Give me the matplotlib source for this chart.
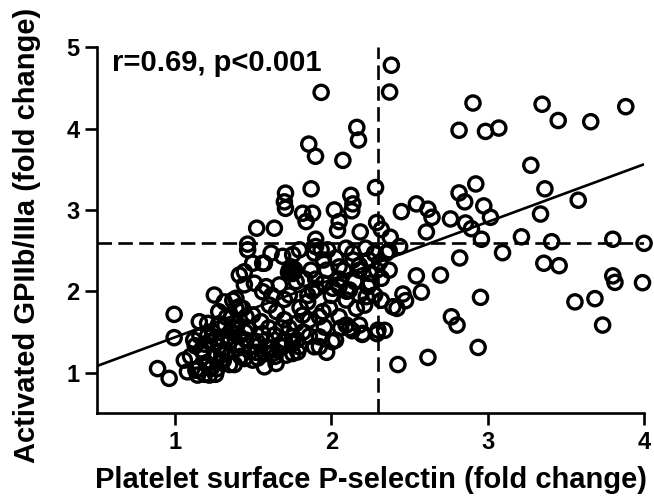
import matplotlib
matplotlib.use("Agg")
import matplotlib.pyplot as plt

# ---- data ----
px_open = [
    2.384, 2.373, 2.906, 3.348, 3.883, 3.451, 3.659, 2.817, 2.986, 3.071,
    2.163, 2.174, 1.899, 2.074, 3.276, 2.924, 3.366, 2.283, 2.125, 2.817,
    2.853, 2.544, 2.448, 2.618, 2.644, 2.762, 2.975, 3.018, 3.579, 3.338,
    2.858, 2.896, 2.608, 2.960, 3.216, 3.409, 3.800, 4.000, 2.185, 2.290,
    2.320, 2.377, 2.437, 2.138, 2.131, 2.020, 2.050, 2.040, 1.935, 1.856,
    1.871, 1.707, 1.700, 1.707, 1.817, 1.839, 1.880, 1.523, 1.636, 1.900,
    1.465,
    3.095, 2.821, 3.359, 3.457, 2.698, 2.544, 2.576, 2.458, 2.475, 2.420,
    2.954, 3.800, 3.814, 3.990, 3.558, 3.686, 3.735, 2.768, 2.804, 2.939,
    2.618, 2.426, 2.341, 2.292, 2.198, 2.134, 2.027, 2.006, 1.924, 2.320,
    2.320,
    0.995, 0.995, 0.889, 0.963, 1.060, 1.080, 1.145, 1.220, 1.134, 1.252,
    1.316, 1.370, 1.390, 1.156, 1.209,
    1.412, 1.465, 1.497, 1.561, 1.615, 1.689, 1.753, 1.796, 1.892, 1.935,
    1.444, 1.508, 1.561, 1.412, 1.455, 1.497, 1.455, 1.519, 1.583, 1.583,
    1.497, 1.647, 1.625, 1.689, 1.753, 1.753, 1.796, 1.892, 1.775, 1.860,
    1.924, 1.924, 1.956,
    2.298, 2.277, 2.394, 2.050, 1.989, 1.946, 2.095, 2.180, 2.010, 2.117,
    2.180, 2.213, 2.160, 2.234, 2.095,
    1.583, 1.390, 1.433, 1.604, 1.551, 1.465, 1.380, 1.636, 1.525, 1.668,
    1.753, 1.785, 1.572, 1.444, 1.711, 1.817, 1.849, 1.732, 1.668, 1.775,
    1.903,
    1.100, 1.130, 1.160, 1.180, 1.200, 1.220, 1.240, 1.250, 1.270, 1.280,
    1.300, 1.310, 1.330, 1.350, 1.360, 1.380, 1.400, 1.420, 1.150, 1.190,
    1.260, 1.120, 1.320, 1.280, 1.400, 1.450, 1.360, 1.280, 1.330,
    1.900, 1.977, 2.095, 2.220, 2.277, 2.370, 1.950, 2.030, 2.140, 2.240,
    2.310, 1.870, 1.970, 2.080, 2.180, 2.290, 2.370,
    1.830, 1.950, 2.050, 2.150, 2.250, 1.880, 2.000, 2.100,
    2.138, 2.277, 2.352, 2.050, 2.180, 2.245, 2.050, 2.224, 2.117, 2.200,
    1.572, 1.444, 1.743,
    1.650, 1.700, 1.620, 1.850, 1.900, 1.800, 1.700, 1.600, 1.680, 1.820,
    1.170, 1.210, 1.240, 1.290, 1.340, 1.370, 1.410, 1.230, 1.190, 1.260,
    1.300, 1.350, 1.430, 1.480, 1.530, 1.560, 1.600, 1.640, 1.700, 1.730,
    1.780, 1.860, 1.970, 2.060, 1.520, 1.620,
]
py_open = [
    4.78, 4.45, 4.315, 4.30, 4.27, 4.10, 4.085, 3.98, 3.966, 4.007,
    4.015, 3.86, 3.66, 3.61, 3.55, 3.32, 3.26, 3.276, 3.18, 3.21,
    3.10, 3.075, 2.98, 3.01, 2.91, 2.89, 3.05, 2.91, 3.12, 2.95,
    2.84, 2.77, 2.73, 2.64, 2.67, 2.61, 2.64, 2.59, 2.73, 2.845,
    2.76, 2.665, 2.55, 3.075, 2.99, 3.00, 2.857, 2.75, 4.446, 3.81,
    3.26, 3.207, 3.10, 3.02, 2.96, 2.857, 2.96, 2.776, 2.776, 2.64,
    2.58,
    2.475, 2.41, 2.345, 2.315, 2.20, 2.19, 1.99, 1.967, 1.885, 1.79,
    1.926, 2.19, 2.11, 2.106, 1.87, 1.91, 1.585, 1.687, 1.585, 1.31,
    1.187, 1.10, 1.52, 1.48, 1.47, 1.515, 1.40, 1.38, 1.32, 1.89,
    2.16,
    1.717, 1.43, 1.05, 0.93, 1.154, 1.01, 0.97, 0.97, 1.03, 1.954,
    1.87, 1.89, 1.79, 1.626, 1.606,
    2.20, 2.51, 2.345, 2.345, 2.47, 2.43, 2.45, 2.51, 2.47, 2.51,
    2.08, 2.10, 1.995, 1.81, 1.687, 1.71, 1.40, 1.32, 1.40, 1.236,
    1.154, 1.113, 1.236, 1.318, 1.44, 1.236, 1.318, 1.318, 1.606, 1.646,
    1.687, 1.44, 1.56,
    1.523, 1.954, 1.81, 1.687, 1.79, 1.75, 1.585, 1.585, 2.037, 2.016,
    1.954, 1.83, 1.79, 2.057, 1.893,
    2.057, 1.914, 1.79, 1.83, 1.626, 1.544, 1.483, 1.462, 1.38, 1.34,
    1.36, 1.255, 1.072, 1.174, 1.215, 1.707, 1.87, 1.954, 2.078, 2.12,
    2.037,
    1.20, 1.33, 1.45, 1.25, 1.12, 1.38, 1.50, 1.20, 1.05, 1.32,
    1.42, 1.15, 1.25, 1.38, 1.50, 1.10, 1.30, 1.20, 1.05, 0.98,
    0.98, 1.40, 1.58, 1.60, 1.60, 1.50, 1.68, 1.75, 1.68,
    2.55, 2.51, 2.53, 2.53, 2.46, 2.50, 2.385, 2.41, 2.385, 2.385,
    2.36, 2.26, 2.26, 2.26, 2.26, 2.26, 2.26,
    2.15, 2.10, 2.15, 2.12, 2.10, 2.00, 1.95, 2.00,
    2.47, 2.47, 2.47, 2.30, 2.32, 2.22, 2.057, 1.934, 1.544, 1.483,
    2.345, 2.24, 2.30,
    1.75, 1.90, 1.95, 1.95, 2.15, 1.80, 1.65, 1.55, 1.55, 1.50,
    1.28, 1.46, 1.08, 1.13, 1.44, 1.56, 1.45, 1.05, 1.35, 1.42,
    1.22, 1.10, 1.32, 1.26, 1.18, 1.48, 1.30, 1.20, 1.40, 1.55,
    1.40, 1.45, 1.25, 1.55, 1.25, 1.30,
]
px_filled = [1.740, 1.760, 1.750, 1.730, 1.721]
py_filled = [2.250, 2.270, 2.230, 2.280, 2.240]

fit_slope = 0.709
fit_intercept = 0.726
fit_x = [0.5, 4.0]
cut_x = 2.30
cut_y = 2.60

xticks = [1, 2, 3, 4]
yticks = [1, 2, 3, 4, 5]

plt.rcParams['font.family'] = ['Liberation Sans', 'DejaVu Sans']
plt.rcParams['font.weight'] = 'bold'
plt.rcParams['xtick.labelsize'] = 17
plt.rcParams['ytick.labelsize'] = 17

fig = plt.figure(figsize=(6.54, 4.99), dpi=100)
ax = fig.add_axes([0.1479, 0.1717, 0.8369, 0.7335])

lw = 1.9
ax.plot(fit_x, [fit_intercept + fit_slope * v for v in fit_x],
        color='black', lw=lw, zorder=3, solid_capstyle='butt')
ax.plot([cut_x, cut_x], [0.5, 5.0], color='black', lw=lw,
        dashes=(5.5, 2.4), zorder=2)
ax.plot([0.5, 4.0], [cut_y, cut_y], color='black', lw=lw,
        dashes=(5.5, 2.4), zorder=2)

ax.scatter(px_open, py_open, s=105, facecolors='none', edgecolors='black',
           linewidths=2.4, zorder=4, clip_on=False)
ax.scatter(px_filled, py_filled, s=105, facecolors='black', edgecolors='black',
           linewidths=2.4, zorder=4, clip_on=False)

ax.set_xlim(0.5, 4.0)
ax.set_ylim(0.5, 5.0)
ax.set_xticks(xticks)
ax.set_yticks(yticks)
for s in ['top', 'right']:
    ax.spines[s].set_visible(False)
for s in ['left', 'bottom']:
    ax.spines[s].set_linewidth(lw)
ax.tick_params(direction='out', length=8.4, width=lw, pad=4, labelsize=17)
for lab in ax.get_xticklabels() + ax.get_yticklabels():
    lab.set_fontweight('bold')
    lab.set_fontsize(17)

ax.set_xlabel('Platelet surface P-selectin (fold change)', fontsize=21,
              fontweight='bold')
ax.set_ylabel('Activated GPIIb/IIIa (fold change)', fontsize=21,
              fontweight='bold')
ax.xaxis.set_label_coords(0.502, -0.145)
ax.yaxis.set_label_coords(-0.102, 0.485)

ax.text(0.598, 4.81, 'r=0.69, p<0.001', fontsize=21, fontweight='bold',
        ha='left', va='center')

fig.savefig('out.png', dpi=100)
